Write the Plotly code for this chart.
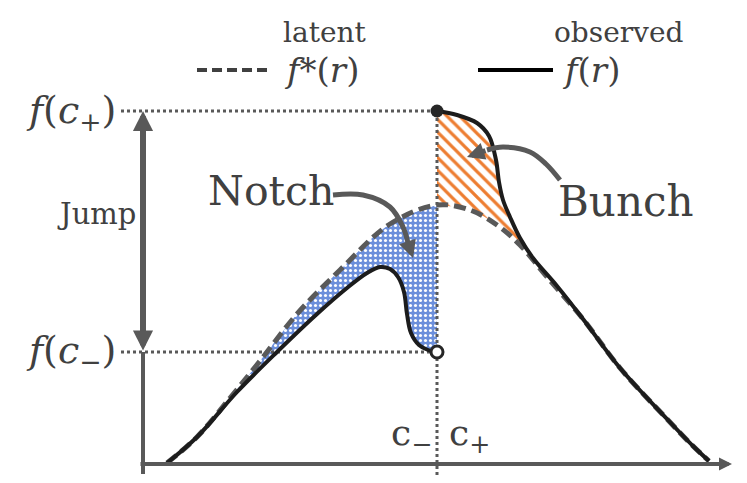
import plotly.graph_objects as go

# ---------------- data (r = running variable, f = density) ----------------
cutoff = 294
f_c_plus = 353
f_c_minus = 112
merge_r = 440

latent_r = [24, 54, 87, 117, 154, 197, 247, 294, 327, 354, 377, 404, 440, 477, 524, 550, 566]
latent_f = [1, 27, 66, 103, 150, 194, 240, 259, 254, 239, 219, 187, 145, 96, 45, 18, 3]

obs_left_r = [24, 54, 94, 134, 174, 204, 224, 237, 247, 255, 261, 264, 268, 276, 285, 294]
obs_left_f = [1, 27, 72, 112, 150, 176, 191, 197, 195, 187, 172, 150, 131, 119, 114, 112]

obs_right_r = [294, 314, 334, 346, 353, 356, 360, 367, 377, 390, 414, 440, 477, 524, 550, 566]
obs_right_f = [353, 349, 341, 328, 304, 282, 264, 247, 226, 206, 178, 145, 96, 45, 18, 3]

notch_arrow_r = [190, 220, 247, 260, 265]
notch_arrow_f = [269, 269, 257, 237, 221]
bunch_arrow_r = [417, 403, 387, 360, 344]
bunch_arrow_f = [284, 300, 312, 317, 314]
notch_tip = (270, 206)
bunch_tip = (324, 307)

# ---------------- styles ----------------
GRAY = "#595959"
TEXT = "#404040"
BLACK = "#1c1c1c"
FONT = "DejaVu Serif"

fig = go.Figure()

# notch region (between latent and observed, left of cutoff)
n_lat = [(r, f) for r, f in zip(latent_r, latent_f) if 54 <= r <= cutoff]
n_obs = [(r, f) for r, f in zip(obs_left_r, obs_left_f) if r >= 54]
fig.add_trace(go.Scatter(x=[p[0] for p in n_lat], y=[p[1] for p in n_lat], mode="lines",
                         line=dict(width=0, shape="spline"), hoverinfo="skip", showlegend=False))
fig.add_trace(go.Scatter(x=[p[0] for p in n_obs], y=[p[1] for p in n_obs], mode="lines",
                         line=dict(width=0, shape="spline"), fill="tonexty",
                         fillcolor="#6C8FDB",
                         fillpattern=dict(shape=".", bgcolor="#6C8FDB", fgcolor="#FFFFFF",
                                          fgopacity=1, size=5, solidity=0.3),
                         hoverinfo="skip", showlegend=False))

# bunch region (between observed and latent, right of cutoff)
b_lat = [(r, f) for r, f in zip(latent_r, latent_f) if cutoff <= r <= merge_r]
b_obs = [(r, f) for r, f in zip(obs_right_r, obs_right_f) if r <= merge_r]
fig.add_trace(go.Scatter(x=[p[0] for p in b_lat], y=[p[1] for p in b_lat], mode="lines",
                         line=dict(width=0, shape="spline"), hoverinfo="skip", showlegend=False))
fig.add_trace(go.Scatter(x=[p[0] for p in b_obs], y=[p[1] for p in b_obs], mode="lines",
                         line=dict(width=0, shape="spline"), fill="tonexty",
                         fillcolor="white",
                         fillpattern=dict(shape="\\", bgcolor="white", fgcolor="#ED7D31",
                                          fgopacity=1, size=9, solidity=0.36),
                         hoverinfo="skip", showlegend=False))

# dotted guide lines
dot = dict(color=GRAY, width=3, dash="dot")
fig.add_trace(go.Scatter(x=[cutoff, cutoff], y=[-11, f_c_plus], mode="lines", line=dot,
                         hoverinfo="skip", showlegend=False))
fig.add_trace(go.Scatter(x=[-22, cutoff], y=[f_c_plus, f_c_plus], mode="lines", line=dot,
                         hoverinfo="skip", showlegend=False))
fig.add_trace(go.Scatter(x=[-22, cutoff], y=[f_c_minus, f_c_minus], mode="lines", line=dot,
                         hoverinfo="skip", showlegend=False))

# latent density (dashed)
fig.add_trace(go.Scatter(x=latent_r, y=latent_f, mode="lines",
                         line=dict(color=GRAY, width=5, dash="12px,6px", shape="spline"),
                         hoverinfo="skip", showlegend=False))
# observed density (solid)
fig.add_trace(go.Scatter(x=obs_left_r, y=obs_left_f, mode="lines",
                         line=dict(color=BLACK, width=4, shape="spline"),
                         hoverinfo="skip", showlegend=False))
fig.add_trace(go.Scatter(x=obs_right_r, y=obs_right_f, mode="lines",
                         line=dict(color=BLACK, width=4, shape="spline"),
                         hoverinfo="skip", showlegend=False))

# endpoint markers
fig.add_trace(go.Scatter(x=[cutoff], y=[f_c_plus], mode="markers",
                         marker=dict(size=13, color="#262626"), hoverinfo="skip", showlegend=False))
fig.add_trace(go.Scatter(x=[cutoff], y=[f_c_minus], mode="markers",
                         marker=dict(size=12, color="white", line=dict(color="#262626", width=3)),
                         hoverinfo="skip", showlegend=False))

# curved pointer arrows
for xs, ys in [(notch_arrow_r, notch_arrow_f), (bunch_arrow_r, bunch_arrow_f)]:
    fig.add_trace(go.Scatter(x=xs, y=ys, mode="lines",
                             line=dict(color=GRAY, width=5, shape="spline"),
                             hoverinfo="skip", showlegend=False))

annotations = []
annotations.append(dict(x=notch_tip[0], y=notch_tip[1], ax=notch_arrow_r[-1], ay=notch_arrow_f[-1],
                        xref="x", yref="y", axref="x", ayref="y", showarrow=True, text="",
                        arrowhead=2, arrowsize=0.7, arrowwidth=5, arrowcolor=GRAY, standoff=0))
annotations.append(dict(x=bunch_tip[0], y=bunch_tip[1], ax=bunch_arrow_r[-1], ay=bunch_arrow_f[-1],
                        xref="x", yref="y", axref="x", ayref="y", showarrow=True, text="",
                        arrowhead=2, arrowsize=0.7, arrowwidth=5, arrowcolor=GRAY, standoff=0))
# x axis arrow
annotations.append(dict(x=589, y=0, ax=-4, ay=0, xref="x", yref="y", axref="x", ayref="y",
                        showarrow=True, text="", arrowhead=2, arrowsize=0.65, arrowwidth=4,
                        arrowcolor=GRAY, standoff=0))
# jump double arrow
annotations.append(dict(x=0, y=f_c_plus, ax=0, ay=f_c_minus, xref="x", yref="y", axref="x", ayref="y",
                        showarrow=True, text="", arrowhead=2, startarrowhead=2, arrowside="end+start",
                        arrowsize=0.67, startarrowsize=0.67, arrowwidth=6, arrowcolor=GRAY,
                        standoff=0, startstandoff=0))

def txt(x, y, s, size, color=TEXT):
    annotations.append(dict(x=x, y=y, xref="x", yref="y", text=s, showarrow=False,
                            font=dict(family=FONT, size=size, color=color),
                            xanchor="center", yanchor="middle"))

txt(182, 432, "latent", 28)
txt(475, 432, "observed", 28)
txt(178, 394, "<i>f</i>*(<i>r</i>)", 34)
txt(448, 394, "<i>f</i>(<i>r</i>)", 34)
txt(-72, 352, "<i>f</i>(<i>c</i><sub>+</sub>)", 38)
txt(-72, 112, "<i>f</i>(<i>c</i><sub>−</sub>)", 38)
txt(-47, 250, "Jump", 29)
txt(128, 273, "Notch", 41)
txt(483, 263, "Bunch", 42)
txt(268, 29, "c<sub>−</sub>", 36)
txt(326, 29, "c<sub>+</sub>", 36)

shapes = [
    dict(type="line", x0=0, x1=0, y0=-10, y1=f_c_minus, xref="x", yref="y",
         line=dict(color=GRAY, width=4)),
    dict(type="line", x0=54, x1=128, y0=394, y1=394, xref="x", yref="y",
         line=dict(color="#404040", width=4, dash="10px,5px")),
    dict(type="line", x0=335, x1=410, y0=394, y1=394, xref="x", yref="y",
         line=dict(color="black", width=4)),
]

# page body has an 8px margin: ranges are shifted so the drawing lands where the reference has it
fig.update_layout(
    width=747, height=483,
    margin=dict(l=0, r=0, t=0, b=0),
    paper_bgcolor="white", plot_bgcolor="white",
    xaxis=dict(range=[-135, 612], visible=False, fixedrange=True),
    yaxis=dict(range=[-27, 456], visible=False, fixedrange=True),
    annotations=annotations, shapes=shapes, showlegend=False,
)

fig.write_html("out.html")
